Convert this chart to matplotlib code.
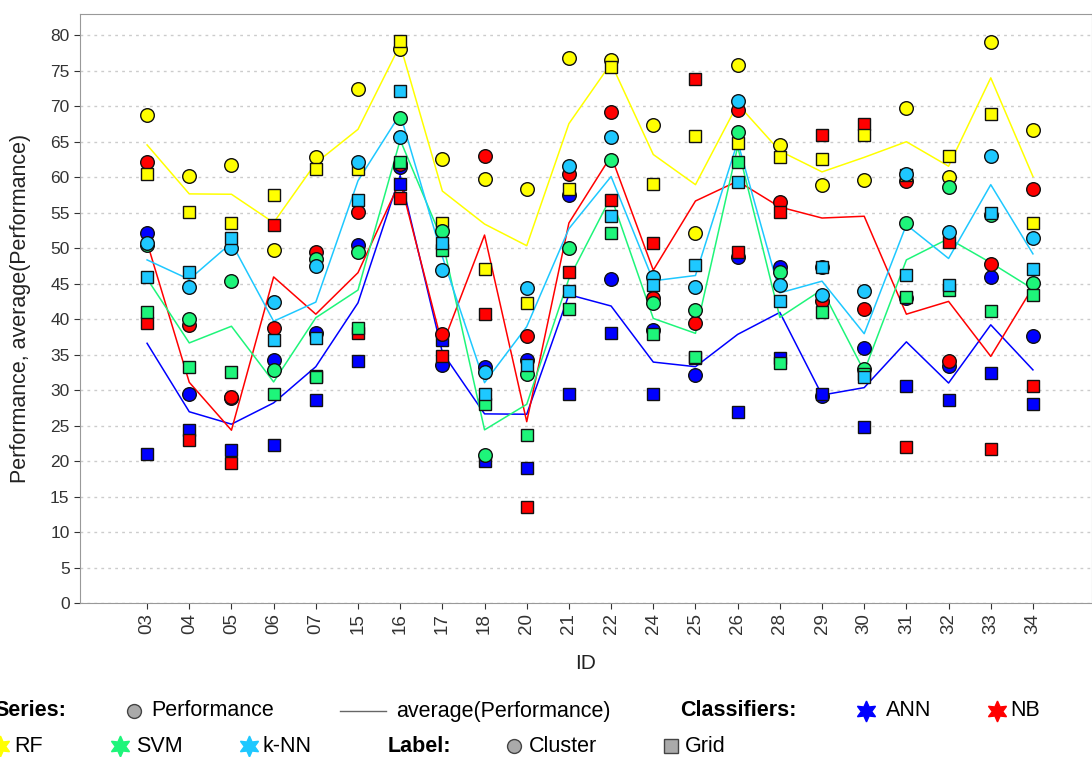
import numpy as np
import matplotlib.pyplot as plt

plt.rcParams['font.family'] = ['Liberation Sans', 'DejaVu Sans']

ids = ['03', '04', '05', '06', '07', '15', '16', '17', '18', '20', '21',
       '22', '24', '25', '26', '28', '29', '30', '31', '32', '33', '34']

ann_cluster = [52.2, 29.5, 28.9, 34.2, 38.0, 50.5, 61.5, 33.6, 33.3, 34.2, 57.5,
               45.7, 38.4, 32.1, 48.8, 47.4, 29.1, 35.9, 43.0, 33.4, 46.0, 37.6]
ann_grid = [21.0, 24.4, 21.5, 22.2, 28.6, 34.1, 59.0, 37.0, 20.0, 19.0, 29.4,
            38.0, 29.5, 34.5, 26.9, 34.5, 29.5, 24.8, 30.6, 28.6, 32.4, 28.1]
nb_cluster = [62.2, 39.2, 29.0, 38.7, 49.4, 55.1, 61.8, 37.9, 63.0, 37.6, 60.5,
              69.2, 43.0, 39.4, 69.5, 56.5, 42.6, 41.5, 59.4, 34.1, 47.8, 58.4]
nb_grid = [39.4, 23.0, 19.7, 53.2, 32.0, 38.0, 57.1, 34.8, 40.7, 13.5, 46.6,
           56.8, 50.8, 73.9, 49.4, 55.1, 65.9, 67.5, 22.0, 50.9, 21.7, 30.6]
rf_cluster = [68.7, 60.2, 61.7, 49.7, 62.9, 72.4, 78.1, 62.6, 59.8, 58.4, 76.8,
              76.5, 67.3, 52.1, 75.8, 64.5, 58.9, 59.6, 69.7, 60.1, 79.1, 66.6]
rf_grid = [60.4, 55.1, 53.5, 57.5, 61.1, 61.1, 79.2, 53.5, 47.0, 42.3, 58.3,
           75.6, 59.1, 65.8, 64.8, 62.9, 62.6, 66.0, 60.3, 63.0, 68.9, 53.6]
svm_cluster = [50.4, 40.0, 45.4, 32.8, 48.5, 49.4, 68.4, 52.4, 20.8, 32.3, 50.0,
               62.4, 42.3, 41.3, 66.4, 46.7, 47.3, 33.0, 53.6, 58.6, 54.7, 45.1]
svm_grid = [41.0, 33.3, 32.6, 29.5, 31.9, 38.8, 62.1, 49.8, 28.0, 23.7, 41.4,
            52.1, 37.9, 34.7, 62.2, 33.8, 41.0, 32.3, 43.1, 44.1, 41.2, 43.4]
knn_cluster = [50.7, 44.5, 50.0, 42.4, 47.5, 62.2, 65.7, 46.9, 32.6, 44.4, 61.6,
               65.7, 46.0, 44.6, 70.7, 44.8, 43.4, 44.0, 60.4, 52.3, 63.0, 51.4]
knn_grid = [46.0, 46.7, 51.5, 37.0, 37.3, 56.8, 72.1, 50.7, 29.5, 33.5, 43.9,
            54.5, 44.8, 47.7, 59.3, 42.6, 47.3, 31.9, 46.2, 44.8, 54.9, 47.0]

classifiers = ['ANN', 'NB', 'RF', 'SVM', 'k-NN']
colors = ['#0000ff', '#ff0000', '#ffff00', '#1ef57a', '#1ec8ff']
cluster = [ann_cluster, nb_cluster, rf_cluster, svm_cluster, knn_cluster]
grid = [ann_grid, nb_grid, rf_grid, svm_grid, knn_grid]

W, H = 1092, 757
fig = plt.figure(figsize=(W / 100, H / 100), dpi=100)
ax = fig.add_axes([80 / W, 1 - 603 / H, 1012 / W, 589 / H])

x = np.arange(len(ids))
for i in range(len(classifiers)):
    avg = (np.array(cluster[i]) + np.array(grid[i])) / 2.0
    ax.plot(x, avg, color=colors[i], lw=1.1, zorder=2)

z = 3
for i in range(len(classifiers)):
    ax.plot(x, cluster[i], 'o', ms=9.8, mfc=colors[i], mec='#111111', mew=1.0, zorder=z)
    ax.plot(x, grid[i], 's', ms=9.2, mfc=colors[i], mec='#111111', mew=1.0, zorder=z + 1)
    z += 2

ax.set_xlim(-1.59, 22.4)
ax.set_ylim(0, 83)
ax.set_yticks(np.arange(0, 81, 5))
ax.set_xticks(x)
ax.set_xticklabels(ids, rotation=90)
ax.tick_params(labelsize=12.5, colors='#333333', length=4)
ax.tick_params(axis='x', labelsize=13.5)
ax.yaxis.grid(True, ls=(0, (2, 3)), color='#cccccc', lw=1)
ax.set_axisbelow(True)
for s in ax.spines.values():
    s.set_color('#999999')
ax.set_xlabel('ID', fontsize=15, color='#222222')
ax.xaxis.set_label_coords(0.5, -(654 - 603) / 589)
ax.set_ylabel('Performance, average(Performance)', fontsize=15.5, color='#222222')
ax.yaxis.set_label_coords(-(80 - 31) / 1012, 0.5)

# legend drawn in pixel coords below the plot
lax = fig.add_axes([0, 0, 1, 1], facecolor='none')
lax.set_xlim(0, W)
lax.set_ylim(H, 0)
lax.axis('off')
fs = 15.5
r1, r2 = 711, 746
lax.text(66, r1, 'Series:', ha='right', va='center', fontsize=fs, fontweight='bold')
lax.plot(134, r1, 'o', ms=10, mfc='#aaaaaa', mec='#444444')
lax.text(151, r1, 'Performance', va='center', fontsize=fs)
lax.plot([340, 386], [r1, r1], color='#666666', lw=1)
lax.text(396, r1, 'average(Performance)', va='center', fontsize=fs)
lax.text(680, r1, 'Classifiers:', va='center', fontsize=fs, fontweight='bold')
lax.plot(866, r1, marker=(6, 1, 0), ms=15, color=colors[0])
lax.text(886, r1, 'ANN', va='center', fontsize=fs)
lax.plot(997, r1, marker=(6, 1, 0), ms=15, color=colors[1])
lax.text(1010, r1, 'NB', va='center', fontsize=fs)

lax.plot(0, r2, marker=(6, 1, 0), ms=15, color=colors[2], clip_on=False)
lax.text(14, r2, 'RF', va='center', fontsize=fs)
lax.plot(120, r2, marker=(6, 1, 0), ms=15, color=colors[3])
lax.text(136, r2, 'SVM', va='center', fontsize=fs)
lax.plot(249, r2, marker=(6, 1, 0), ms=15, color=colors[4])
lax.text(263, r2, 'k-NN', va='center', fontsize=fs)
lax.text(388, r2, 'Label:', va='center', fontsize=fs, fontweight='bold')
lax.plot(514, r2, 'o', ms=10, mfc='#aaaaaa', mec='#444444')
lax.text(529, r2, 'Cluster', va='center', fontsize=fs)
lax.plot(671, r2, 's', ms=9.5, mfc='#aaaaaa', mec='#444444')
lax.text(685, r2, 'Grid', va='center', fontsize=fs)

fig.savefig('out.png', dpi=100)
